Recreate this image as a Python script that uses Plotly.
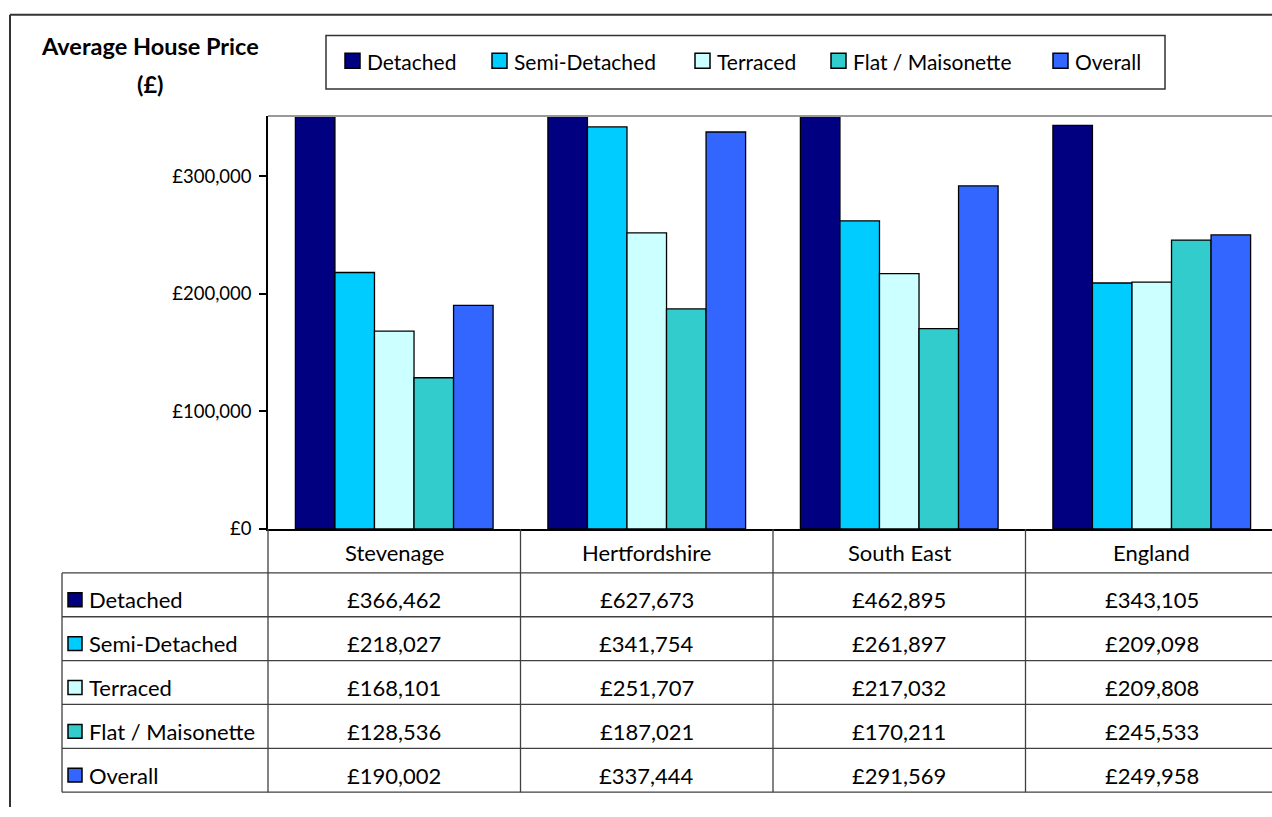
import plotly.graph_objects as go

# ---- data -------------------------------------------------------------
areas = ["Stevenage", "Hertfordshire", "South East", "England"]
house_types = ["Detached", "Semi-Detached", "Terraced", "Flat / Maisonette", "Overall"]
detached = [366462, 627673, 462895, 343105]
semi_detached = [218027, 341754, 261897, 209098]
terraced = [168101, 251707, 217032, 209808]
flat_maisonette = [128536, 187021, 170211, 245533]
overall = [190002, 337444, 291569, 249958]
y_tick_values = [0, 100000, 200000, 300000]

series = [detached, semi_detached, terraced, flat_maisonette, overall]
colours = ["#000080", "#00CCFF", "#CCFFFF", "#33CCCC", "#3366FF"]

# ---- page geometry (pixels) ------------------------------------------
W, H = 1272, 817
FONT = "Lato"
plot_left, plot_top, plot_bottom = 268, 117.5, 535.5
cat_width = 252.5
header_bottom = 580
row_height = 44.4
table_left = 62


def px(x):
    return x / W


def py(y):
    return 1 - y / H


def money(v):
    return f"£{v:,}"


fig = go.Figure()
for name, vals, col in zip(house_types, series, colours):
    fig.add_trace(go.Bar(
        x=areas, y=vals, name=name, showlegend=False,
        marker=dict(color=col, line=dict(color="black", width=1.3)),
        hoverinfo="x+y+name",
    ))

shapes = []
annotations = []


def line(x0, y0, x1, y1, color, width):
    shapes.append(dict(type="line", xref="paper", yref="paper",
                       x0=px(x0), x1=px(x1), y0=py(y0), y1=py(y1),
                       line=dict(color=color, width=width)))


# outer chart frame (top and left edges fall inside the page)
line(10, 15, W, 15, "#333333", 2)
line(10, 15, 10, H, "#333333", 2)
# plot area top border
line(plot_left, plot_top, W, plot_top, "#999999", 2)

# title
annotations.append(dict(text="<b>Average House Price</b>", xref="paper", yref="paper",
                        x=px(150), y=py(47), showarrow=False, xanchor="center", yanchor="middle",
                        font=dict(family=FONT, size=23.5, color="black")))
annotations.append(dict(text="<b>(£)</b>", xref="paper", yref="paper",
                        x=px(150), y=py(85), showarrow=False, xanchor="center", yanchor="middle",
                        font=dict(family=FONT, size=23.5, color="black")))

# legend box with keys
shapes.append(dict(type="rect", xref="paper", yref="paper",
                   x0=px(326), y0=py(90), x1=px(1165), y1=py(36),
                   line=dict(color="#333333", width=1.5), fillcolor="white", layer="below"))
legend_key_x = [345, 492, 695, 831, 1053]
for kx, name, col in zip(legend_key_x, house_types, colours):
    shapes.append(dict(type="rect", xref="paper", yref="paper",
                       x0=px(kx), y0=py(69), x1=px(kx + 15), y1=py(54),
                       line=dict(color="black", width=1.5), fillcolor=col))
    annotations.append(dict(text=name, xref="paper", yref="paper",
                            x=px(kx + 20), y=py(62), showarrow=False,
                            xanchor="left", yanchor="middle",
                            font=dict(family=FONT, size=21, color="black")))

# ---- data table under the axis ----------------------------------------
table_bottom = header_bottom + row_height * len(house_types)
line_col = "#404040"

for i in range(len(house_types) + 1):
    y = header_bottom + row_height * i
    line(table_left, y, W, y, line_col, 1.3)
line(table_left, header_bottom, table_left, table_bottom, line_col, 1.3)
line(plot_left, plot_bottom, plot_left, table_bottom, line_col, 1.3)
for j in range(1, len(areas)):
    x = plot_left + cat_width * j
    line(x, plot_bottom, x, table_bottom, line_col, 1.3)

# column headers
for j, area in enumerate(areas):
    annotations.append(dict(text=area, xref="paper", yref="paper",
                            x=px(plot_left + cat_width * (j + 0.5)),
                            y=py((plot_bottom + header_bottom) / 2 + 2),
                            showarrow=False, xanchor="center", yanchor="middle",
                            font=dict(family=FONT, size=22, color="black")))

# rows
for i, (name, vals, col) in enumerate(zip(house_types, series, colours)):
    cy = header_bottom + row_height * (i + 0.5) + 5
    shapes.append(dict(type="rect", xref="paper", yref="paper",
                       x0=px(68), y0=py(cy + 7), x1=px(82), y1=py(cy - 7),
                       line=dict(color="black", width=1.5), fillcolor=col))
    annotations.append(dict(text=name, xref="paper", yref="paper",
                            x=px(87), y=py(cy), showarrow=False,
                            xanchor="left", yanchor="middle",
                            font=dict(family=FONT, size=22, color="black")))
    for j, v in enumerate(vals):
        annotations.append(dict(text=money(v), xref="paper", yref="paper",
                                x=px(plot_left + cat_width * (j + 0.5)), y=py(cy),
                                showarrow=False, xanchor="center", yanchor="middle",
                                font=dict(family=FONT, size=22, color="black")))

fig.update_layout(
    width=W, height=H, autosize=False,
    margin=dict(l=0, r=0, t=0, b=0),
    paper_bgcolor="white", plot_bgcolor="white",
    barmode="group", bargap=0.217, bargroupgap=0,
    font=dict(family=FONT, color="black"),
    xaxis=dict(domain=[px(plot_left), 1],
               range=[-0.5, -0.5 + (W - plot_left) / cat_width],
               showticklabels=False, ticks="", showgrid=False, zeroline=False,
               showline=True, linecolor="black", linewidth=1.5),
    yaxis=dict(domain=[py(plot_bottom), py(plot_top)], range=[0, 351000],
               tickvals=y_tick_values, ticktext=[money(v) for v in y_tick_values],
               ticks="outside", ticklen=7, tickwidth=1.5, tickcolor="black",
               showline=True, linecolor="black", linewidth=1.5,
               showgrid=False, zeroline=False, ticklabelstandoff=4,
               tickfont=dict(family=FONT, size=18.5, color="black")),
    shapes=shapes, annotations=annotations,
)

fig.write_html("out.html")
